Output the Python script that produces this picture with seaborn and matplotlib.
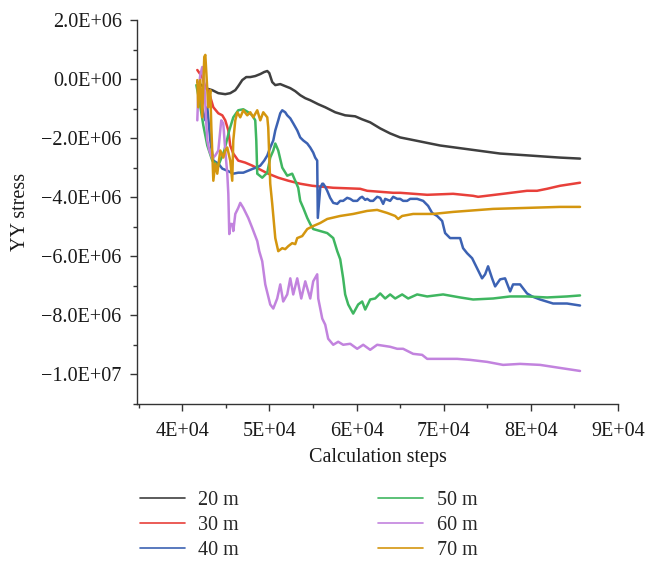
import numpy as np
import pandas as pd
import matplotlib
matplotlib.use("Agg")
import matplotlib.pyplot as plt
from matplotlib.ticker import FuncFormatter, MultipleLocator
import seaborn as sns

# Calculation steps and YY stress (in 1E+06 units) for each monitoring depth
steps_20 = [41720, 42640, 43440, 44130, 44930, 45500, 46080, 46420, 46880, 47340, 47800,
            48370, 48950, 49400, 49750, 49980, 50320, 50670, 51240, 51810, 52390, 52960,
            53530, 54110, 54680, 55600, 56400, 57550, 58690, 59840, 60640, 61560, 62710,
            63850, 65000, 66150, 67290, 68440, 69590, 71310, 73030, 74750, 76470, 78190,
            79910, 81630, 83350, 85640]
stress_20 = [-0.102, -0.307, -0.375, -0.477, -0.511, -0.477, -0.375, -0.239, -0.034, 0.068,
             0.068, 0.102, 0.170, 0.239, 0.273, 0.204, -0.102, -0.204, -0.170, -0.239,
             -0.307, -0.409, -0.545, -0.647, -0.716, -0.852, -0.954, -1.124, -1.227, -1.261,
             -1.363, -1.465, -1.670, -1.840, -1.976, -2.044, -2.112, -2.181, -2.249, -2.317,
             -2.385, -2.453, -2.521, -2.555, -2.589, -2.624, -2.658, -2.692]

steps_30 = [41720, 42290, 42640, 42980, 43560, 44130, 44590, 44930, 45280, 45500, 45850,
            46420, 47220, 48030, 48720, 49860, 51010, 52160, 53530, 54910, 57320, 60410,
            61220, 64200, 65000, 68100, 71080, 73370, 73950, 76810, 79560, 80710, 81860,
            83350, 85640]
stress_30 = [0.307, 0.068, -0.273, -0.375, -0.954, -1.158, -1.227, -1.397, -1.738, -2.249,
             -2.521, -2.760, -2.828, -2.930, -3.032, -3.203, -3.339, -3.441, -3.543, -3.612,
             -3.680, -3.714, -3.782, -3.850, -3.850, -3.918, -3.884, -3.952, -3.986, -3.884,
             -3.782, -3.782, -3.714, -3.612, -3.509]

steps_40 = [41720, 42060, 42640, 42870, 43210, 43560, 44130, 44590, 45160, 45850, 46420,
            47000, 47570, 48140, 48490, 48950, 49400, 49750, 50090, 50440, 50670, 51010,
            51240, 51470, 51810, 52040, 52390, 52730, 53190, 53530, 53880, 54340, 54680,
            55020, 55250, 55480, 55550, 55830, 56060, 56170, 56400, 56630, 56970, 57320,
            57780, 58120, 58460, 58920, 59270, 59610, 60070, 60410, 60640, 60990, 61220,
            61560, 61900, 62360, 62710, 63050, 63280, 63850, 64200, 64660, 65000, 65340,
            65800, 66150, 66950, 67640, 68210, 68670, 69240, 69820, 70160, 70730, 71310,
            71880, 72220, 72680, 73260, 73830, 74400, 74750, 75090, 75550, 75900, 76470,
            77040, 77620, 77960, 78760, 79560, 80140, 81060, 82550, 84150, 85640]
stress_40 = [-0.204, -0.716, -1.397, -0.954, -2.078, -2.760, -2.862, -3.032, -3.101, -3.203,
             -3.169, -3.169, -3.101, -3.032, -2.998, -2.930, -2.760, -2.589, -2.317, -2.078,
             -1.738, -1.397, -1.158, -1.056, -1.124, -1.227, -1.329, -1.499, -1.738, -1.976,
             -2.078, -2.181, -2.317, -2.487, -2.658, -2.760, -4.700, -3.680, -3.543, -3.543,
             -3.646, -3.782, -4.020, -4.191, -4.225, -4.123, -4.123, -4.020, -4.055, -4.123,
             -4.123, -4.020, -3.986, -4.089, -4.055, -4.123, -4.123, -3.986, -4.020, -4.225,
             -4.055, -4.123, -3.986, -4.055, -4.055, -4.123, -4.123, -4.055, -4.055, -4.123,
             -4.293, -4.532, -4.634, -4.804, -5.213, -5.383, -5.383, -5.383, -5.724, -5.894,
             -6.065, -6.406, -6.746, -6.610, -6.338, -6.746, -7.019, -6.780, -6.746, -7.189,
             -6.951, -6.951, -7.257, -7.359, -7.462, -7.598, -7.598, -7.666]

steps_50 = [41610, 41950, 42410, 42870, 43440, 44130, 44820, 45390, 45850, 46420, 47000,
            47570, 48030, 48370, 48490, 48600, 49170, 49750, 50090, 50440, 50670, 51010,
            51470, 52040, 52610, 52960, 53300, 53530, 53880, 54340, 54680, 55020, 55830,
            56630, 57320, 57780, 58120, 58460, 58690, 59040, 59610, 60180, 60640, 60990,
            61560, 62130, 62710, 63280, 63850, 64430, 65230, 65920, 66950, 68100, 69930,
            71880, 73370, 75670, 77620, 79560, 81860, 84150, 85640]
stress_50 = [-0.204, -0.716, -1.567, -2.249, -2.760, -2.930, -2.419, -1.738, -1.295, -1.056,
             -1.022, -1.124, -1.227, -1.397, -2.078, -3.203, -3.339, -3.169, -2.658, -2.419,
             -2.181, -2.419, -2.998, -3.271, -3.203, -3.441, -3.680, -4.123, -4.361, -4.702,
             -4.906, -5.077, -5.145, -5.213, -5.383, -5.826, -6.099, -6.746, -7.291, -7.632,
             -7.939, -7.632, -7.530, -7.802, -7.462, -7.428, -7.257, -7.428, -7.291, -7.428,
             -7.291, -7.428, -7.291, -7.359, -7.291, -7.393, -7.462, -7.428, -7.359, -7.359,
             -7.393, -7.359, -7.325]

steps_60 = [41720, 41830, 42060, 42290, 42520, 42750, 42870, 43100, 43440, 43780, 44130,
            44470, 44700, 44930, 45160, 45280, 45390, 45500, 45730, 45850, 46080, 46420,
            46650, 47000, 47570, 48030, 48600, 48830, 49170, 49520, 50090, 50440, 50890,
            51240, 51580, 52040, 52390, 52730, 53190, 53650, 54110, 54680, 55020, 55480,
            55600, 56060, 56400, 56740, 57320, 57890, 58460, 59270, 60070, 60760, 61560,
            62360, 63850, 64660, 65340, 66490, 67520, 68100, 69590, 71540, 73030, 74980,
            76810, 78760, 81060, 83350, 85640]
stress_60 = [-1.397, -0.477, 0.136, 0.409, -0.136, -1.499, -2.078, -2.419, -2.692, -2.589,
             -2.419, -1.397, -1.499, -2.419, -3.203, -3.884, -5.247, -4.906, -4.906, -5.145,
             -4.566, -4.361, -4.191, -4.361, -4.702, -5.043, -5.486, -5.826, -6.167, -6.951,
             -7.632, -7.768, -7.428, -6.951, -7.530, -7.291, -6.746, -7.291, -6.746, -7.428,
             -6.848, -7.428, -6.848, -6.610, -7.428, -8.109, -8.314, -8.791, -8.995, -8.893,
             -8.995, -8.961, -9.131, -8.995, -9.165, -8.995, -9.063, -9.131, -9.131, -9.302,
             -9.336, -9.472, -9.472, -9.472, -9.506, -9.574, -9.676, -9.642, -9.676, -9.779,
             -9.881]

steps_70 = [41720, 41830, 42060, 42290, 42520, 42640, 42870, 42980, 43210, 43330, 43560,
            43780, 44010, 44360, 44700, 44930, 45160, 45500, 45730, 45850, 46080, 46310,
            46650, 47000, 47450, 47800, 48140, 48600, 48950, 49290, 49750, 49860, 50090,
            50320, 50670, 51010, 51470, 51810, 52160, 52610, 52960, 53190, 53760, 54340,
            55020, 55830, 56630, 58120, 59610, 61220, 62360, 63510, 64430, 64770, 65230,
            66490, 68780, 71080, 75670, 79560, 83350, 85640]
stress_70 = [-0.034, -0.954, -0.034, -1.295, 0.750, 0.818, -0.375, -0.954, -0.375, -1.635,
             -3.441, -2.862, -3.203, -2.419, -2.658, -2.419, -2.317, -2.760, -3.441, -2.078,
             -1.397, -1.124, -1.295, -1.056, -1.227, -1.124, -1.295, -1.056, -1.397, -1.124,
             -1.295, -1.635, -3.543, -4.225, -5.383, -5.826, -5.724, -5.758, -5.656, -5.554,
             -5.588, -5.383, -5.315, -5.077, -4.975, -4.872, -4.736, -4.634, -4.566, -4.463,
             -4.429, -4.532, -4.634, -4.736, -4.634, -4.566, -4.566, -4.497, -4.395, -4.361,
             -4.327, -4.327]

depths = ["20 m", "30 m", "40 m", "50 m", "60 m", "70 m"]
colors = ["#3f3f3f", "#e8403a", "#3c62b3", "#3fb660", "#c283de", "#d4960f"]

series = [(steps_20, stress_20), (steps_30, stress_30), (steps_40, stress_40),
          (steps_50, stress_50), (steps_60, stress_60), (steps_70, stress_70)]
frames = []
for name, (s, v) in zip(depths, series):
    frames.append(pd.DataFrame({"step": s, "stress": np.asarray(v) * 1e6, "depth": name}))
df = pd.concat(frames, ignore_index=True)

sns.set_style("ticks")
plt.rcParams["font.family"] = ["Liberation Serif", "DejaVu Serif"]
FS = 14.5
plt.rcParams["font.size"] = FS

fig = plt.figure(figsize=(6.45, 5.67), dpi=100)
ax = fig.add_axes([137 / 645, 1 - 404 / 567, (618 - 137) / 645, (404 - 20) / 567])

sns.lineplot(data=df, x="step", y="stress", hue="depth", hue_order=depths,
             palette=dict(zip(depths, colors)), sort=False, estimator=None,
             linewidth=1.8, ax=ax)

ax.set_xlim(34800, 90000)
ax.set_ylim(-1.1e7, 2.0e6)
ax.xaxis.set_major_locator(MultipleLocator(10000))
ax.xaxis.set_minor_locator(MultipleLocator(5000))
ax.yaxis.set_major_locator(MultipleLocator(2e6))
ax.yaxis.set_minor_locator(MultipleLocator(1e6))
ax.xaxis.set_major_formatter(FuncFormatter(lambda v, p: f"{v:.0E}".replace("-", "\u2212")))
ax.yaxis.set_major_formatter(FuncFormatter(lambda v, p: f"{v:.1E}".replace("-", "\u2212")))

for side in ("top", "right"):
    ax.spines[side].set_visible(False)
for side in ("left", "bottom"):
    ax.spines[side].set_color("#333333")
    ax.spines[side].set_linewidth(1.0)
ax.tick_params(axis="both", which="major", length=5, width=1, color="#333333",
               labelsize=FS, labelcolor="#1a1a1a")
ax.tick_params(axis="both", which="minor", length=3, width=1, color="#333333")
ax.tick_params(axis="x", which="major", pad=8)
ax.tick_params(axis="y", which="major", pad=6)

ax.set_xlabel("Calculation steps", fontsize=FS, color="#1a1a1a", labelpad=5)
ax.set_ylabel("YY stress", fontsize=FS, color="#1a1a1a", labelpad=8)

handles, labels = ax.get_legend_handles_labels()
ax.get_legend().remove()
for h in handles:
    h.set_linewidth(1.2)
fig.legend(handles, labels, ncol=2, loc="upper left",
           bbox_to_anchor=(140 / 645, 1 - 491 / 567), frameon=False,
           fontsize=FS, handlelength=2.25, handletextpad=0.65, columnspacing=6.9,
           labelspacing=0.3, borderpad=0, borderaxespad=0)

fig.savefig("out.png", dpi=100)
